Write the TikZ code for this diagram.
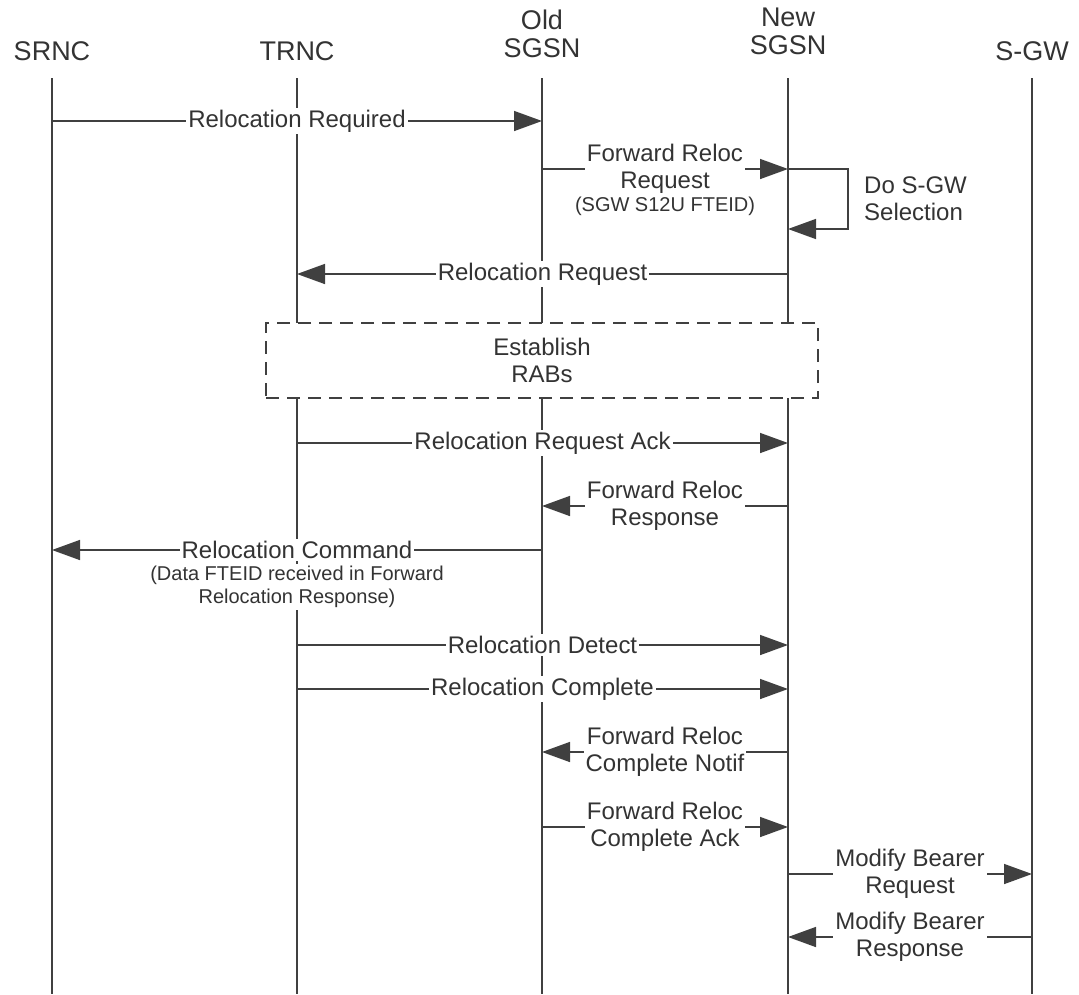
\documentclass[tikz,border=0pt]{standalone}
\usepackage{fontspec}
\setmainfont{Liberation Sans}
\usepackage{tikz}
\usetikzlibrary{arrows.meta,positioning}
\newcommand{\bigtxt}{\fontsize{24}{27}\selectfont}
\newcommand{\smalltxt}{\fontsize{20}{23}\selectfont}
\tikzstyle{actor} = [text=black!80, font=\fontsize{27}{28}\selectfont, align=center, inner sep=0pt]
\tikzstyle{life} = [draw=black!75, line width=1.5pt]
\tikzstyle{msg} = [draw=black!75, line width=1.5pt, -{Triangle[length=28pt,width=20pt]}]
\tikzstyle{lbl} = [fill=white, text=black!80, font=\bigtxt, align=center, inner sep=2pt]
\tikzstyle{note} = [fill=white, text=black!80, font=\smalltxt, align=center, inner sep=2pt]
\tikzstyle{rabbox} = [draw=black!75, line width=1.5pt, dash pattern=on 13pt off 8pt, fill=white, text=black!80, font=\bigtxt, align=center, minimum width=552pt, minimum height=75pt]

\begin{document}
\begin{tikzpicture}[x=1pt,y=-1pt]
					\useasboundingbox (0,0) rectangle (1079,994);
					\node[actor] (srnc) at (52,51) {SRNC};
					\node[actor] (trnc) at (297,51) {TRNC};
					\node[actor] (osgsn) at (542,34) {Old\\SGSN};
					\node[actor] (nsgsn) at (788,31) {New\\SGSN};
					\node[actor] (sgw) at (1032,51) {S-GW};
					\coordinate (srncT) at (52,78);
					\coordinate (trncT) at (297,78);
					\coordinate (oT) at (542,78);
					\coordinate (nT) at (788,78);
					\coordinate (sgwT) at (1032,78);
					\coordinate (bottom) at (0,994);
					\draw[life] (srncT) -- (srncT |- bottom);
					\draw[life] (trncT) -- (trncT |- bottom);
					\draw[life] (oT) -- (oT |- bottom);
					\draw[life] (nT) -- (nT |- bottom);
					\draw[life] (sgwT) -- (sgwT |- bottom);
					\coordinate (m1) at (0,121);
					\coordinate (m2) at (0,169);
					\coordinate (m4) at (0,274);
					\coordinate (m6) at (0,443);
					\coordinate (m7) at (0,506);
					\coordinate (m8) at (0,550);
					\coordinate (m9) at (0,645);
					\coordinate (m10) at (0,689);
					\coordinate (m11) at (0,752);
					\coordinate (m12) at (0,827);
					\coordinate (m13) at (0,874);
					\coordinate (m14) at (0,937);
					\draw[msg] (srncT |- m1) -- node[lbl] (relreq) {Relocation Required} (oT |- m1);
					\draw[msg] (oT |- m2) -- node[lbl] (fwdreq) {Forward Reloc\\Request} (nT |- m2);
					\node[note] (fteid) at (665,206) {(SGW S12U FTEID)};
					\coordinate (loopR) at (848,169);
					\coordinate (loopB) at (848,229);
					\draw[msg] (nT |- m2) -- (loopR) -- (loopB) -- (nT |- loopB);
					\node[lbl, anchor=west, align=left, fill=none] (sel) at (862,199) {Do S-GW\\Selection};
					\draw[msg] (nT |- m4) -- node[lbl] (relrq) {Relocation Request} (trncT |- m4);
					\node[rabbox] (rabs) at (542,360.5) {Establish\\RABs};
					\draw[msg] (trncT |- m6) -- node[lbl] (relack) {Relocation Request Ack} (nT |- m6);
					\draw[msg] (nT |- m7) -- node[lbl] (fwdrsp) {Forward Reloc\\Response} (oT |- m7);
					\draw[msg] (oT |- m8) -- node[lbl] (relcmd) {Relocation Command} (srncT |- m8);
					\node[note] (datanote) at (297,587) {(Data FTEID received in Forward\\Relocation Response)};
					\draw[msg] (trncT |- m9) -- node[lbl] (reldet) {Relocation Detect} (nT |- m9);
					\draw[msg] (trncT |- m10) -- node[lbl] (relcpl) {Relocation Complete} (nT |- m10);
					\draw[msg] (nT |- m11) -- node[lbl] (fwdnotif) {Forward Reloc\\Complete Notif} (oT |- m11);
					\draw[msg] (oT |- m12) -- node[lbl] (fwdack) {Forward Reloc\\Complete Ack} (nT |- m12);
					\draw[msg] (nT |- m13) -- node[lbl] (modreq) {Modify Bearer\\Request} (sgwT |- m13);
					\draw[msg] (sgwT |- m14) -- node[lbl] (modrsp) {Modify Bearer\\Response} (nT |- m14);
\end{tikzpicture}
\end{document}
